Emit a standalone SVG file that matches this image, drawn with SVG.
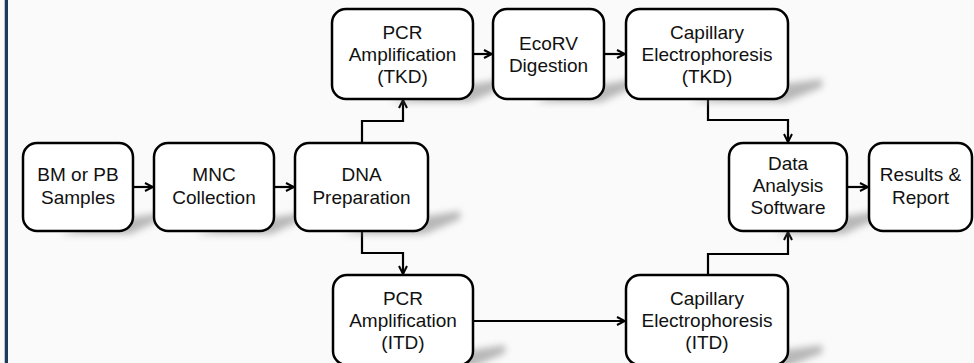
<svg xmlns="http://www.w3.org/2000/svg" width="974" height="363" viewBox="0 0 974 363">
<style>
.box{fill:#fff;stroke:#000;stroke-width:2.5}
.t{font-family:"Liberation Sans",Arial,sans-serif;font-size:19px;fill:#111;text-anchor:middle}
.c{fill:none;stroke:#000;stroke-width:2.2;marker-end:url(#ah)}
.sh{fill:#8a8a8a;opacity:0.6;filter:url(#blur)}
</style>
<defs>
<marker id="ah" viewBox="0 0 10 10" refX="9" refY="5" markerWidth="10" markerHeight="10" markerUnits="userSpaceOnUse" orient="auto">
<path d="M1,1 L9,5 L1,9" fill="none" stroke="#000" stroke-width="2"/>
</marker>
<filter id="blur" x="-50%" y="-50%" width="200%" height="200%"><feGaussianBlur stdDeviation="3.5"/></filter>
</defs>
<rect x="0" y="0" width="974" height="363" fill="#fafafa"/>
<rect x="4" y="0" width="1.5" height="363" fill="#b9c3d0"/>
<rect x="5" y="0" width="3" height="363" fill="#1b3a60"/>

<g id="connectors">
<path class="c" d="M133,187 H153"/>
<path class="c" d="M274,187 H294"/>
<path class="c" d="M362,143 V121 H403 V100"/>
<path class="c" d="M362,231 V253 H403 V274"/>
<path class="c" d="M473,54 H492"/>
<path class="c" d="M604,54 H625"/>
<path class="c" d="M708,99 V120 H788 V142"/>
<path class="c" d="M473,321 H625"/>
<path class="c" d="M708,275 V254 H788 V232"/>
<path class="c" d="M847,187 H868"/>
</g>

<g id="n1">
<polygon class="sh" points="60,234 130,234 162,219 162,213 100,222"/>
<rect class="box" x="23" y="143" width="110" height="88" rx="14"/>
<text class="t" x="78" y="181">BM or PB</text>
<text class="t" x="78" y="203.5">Samples</text>
</g>
<g id="n2">
<polygon class="sh" points="195,234 271,234 304,219 304,213 240,222"/>
<rect class="box" x="154" y="143" width="120" height="88" rx="14"/>
<text class="t" x="214" y="181">MNC</text>
<text class="t" x="214" y="203.5">Collection</text>
</g>
<g id="n3">
<polygon class="sh" points="340,234 425,234 460,219 460,211 390,222"/>
<rect class="box" x="295" y="143" width="133" height="88" rx="14"/>
<text class="t" x="361.5" y="181">DNA</text>
<text class="t" x="361.5" y="203.5">Preparation</text>
</g>
<g id="n4">
<polygon class="sh" points="390,102 470,102 505,87 505,79 435,90"/>
<rect class="box" x="332" y="9" width="141" height="90" rx="14"/>
<text class="t" x="402.5" y="38.5">PCR</text>
<text class="t" x="402.5" y="60.5">Amplification</text>
<text class="t" x="402.5" y="82.5">(TKD)</text>
</g>
<g id="n5">
<polygon class="sh" points="535,102 601,102 634,87 634,79 570,90"/>
<rect class="box" x="493" y="9" width="111" height="90" rx="14"/>
<text class="t" x="548.5" y="49.5">EcoRV</text>
<text class="t" x="548.5" y="72">Digestion</text>
</g>
<g id="n6">
<polygon class="sh" points="690,102 785,102 822,87 822,79 740,90"/>
<rect class="box" x="626" y="9" width="162" height="90" rx="14"/>
<text class="t" x="707" y="38.5">Capillary</text>
<text class="t" x="707" y="60.5">Electrophoresis</text>
<text class="t" x="707" y="82.5">(TKD)</text>
</g>
<g id="n7">
<polygon class="sh" points="775,234 844,234 877,219 877,211 810,222"/>
<rect class="box" x="729" y="143" width="118" height="88" rx="14"/>
<text class="t" x="788" y="170">Data</text>
<text class="t" x="788" y="192">Analysis</text>
<text class="t" x="788" y="214">Software</text>
</g>
<g id="n8">
<rect class="box" x="869" y="143" width="103" height="88" rx="14"/>
<text class="t" x="920.5" y="181">Results &amp;</text>
<text class="t" x="920.5" y="203.5">Report</text>
</g>
<g id="n9">
<polygon class="sh" points="390,368 470,368 505,353 505,345 435,356"/>
<rect class="box" x="333" y="275" width="140" height="90" rx="14"/>
<text class="t" x="403" y="304.5">PCR</text>
<text class="t" x="403" y="326.5">Amplification</text>
<text class="t" x="403" y="348.5">(ITD)</text>
</g>
<g id="n10">
<polygon class="sh" points="690,368 785,368 822,353 822,345 740,356"/>
<rect class="box" x="626" y="275" width="162" height="90" rx="14"/>
<text class="t" x="707" y="304.5">Capillary</text>
<text class="t" x="707" y="326.5">Electrophoresis</text>
<text class="t" x="707" y="348.5">(ITD)</text>
</g>
</svg>
